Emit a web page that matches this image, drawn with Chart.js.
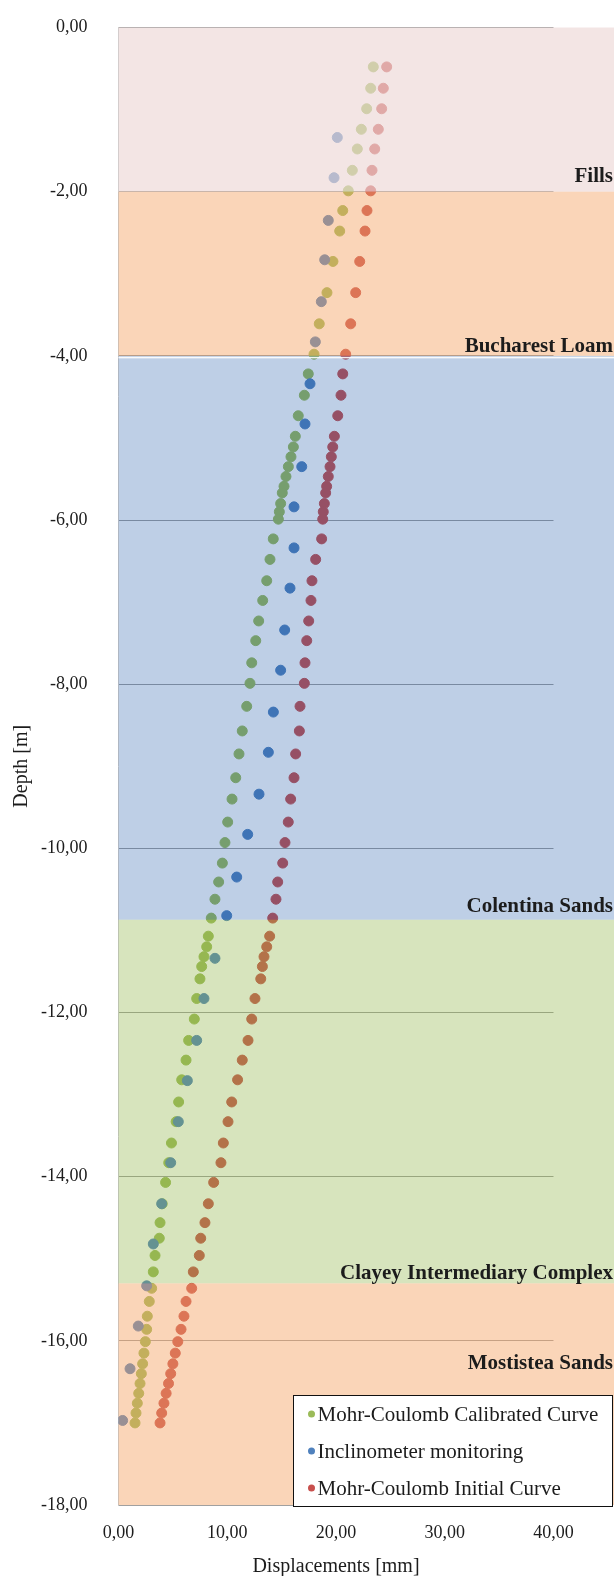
<!DOCTYPE html>
<html>
<head>
<meta charset="utf-8">
<script src="https://cdn.jsdelivr.net/npm/chart.js@4/dist/chart.umd.min.js"></script>
<style>
  html, body { margin: 0; padding: 0; background: #ffffff; }
  canvas { display: block; }
</style>
</head>
<body>
<canvas id="chart" width="614" height="1576"></canvas>
<script>
// Depth of the numerical-model nodes [m]
const modelDepth = [
  -0.48, -0.74, -0.99, -1.24, -1.48, -1.74, -1.99, -2.23, -2.48, -2.85,
  -3.23, -3.61, -3.98, -4.22, -4.48, -4.73, -4.98, -5.11, -5.23, -5.35,
  -5.47, -5.59, -5.67, -5.80, -5.90, -5.99, -6.23, -6.48, -6.74, -6.98,
  -7.23, -7.47, -7.74, -7.99, -8.27, -8.57, -8.85, -9.14, -9.40, -9.68,
  -9.93, -10.18, -10.41, -10.62, -10.85, -11.07, -11.20, -11.32, -11.44, -11.59,
  -11.83, -12.08, -12.34, -12.58, -12.82, -13.09, -13.33, -13.59, -13.83, -14.07,
  -14.33, -14.56, -14.75, -14.96, -15.16, -15.36, -15.52, -15.70, -15.86, -16.01,
  -16.15, -16.28, -16.40, -16.52, -16.64, -16.76, -16.88, -17.00
];

// Mohr-Coulomb calibrated model displacements [mm]
const calibratedDisp = [
  23.43, 23.19, 22.82, 22.33, 21.96, 21.50, 21.13, 20.62, 20.34, 19.72,
  19.17, 18.46, 17.98, 17.45, 17.09, 16.53, 16.26, 16.08, 15.86, 15.62,
  15.40, 15.22, 15.06, 14.91, 14.79, 14.70, 14.23, 13.93, 13.63, 13.26,
  12.89, 12.62, 12.25, 12.09, 11.79, 11.38, 11.08, 10.78, 10.44, 10.04,
  9.79, 9.55, 9.21, 8.87, 8.53, 8.26, 8.11, 7.86, 7.65, 7.49,
  7.19, 6.97, 6.45, 6.21, 5.81, 5.53, 5.30, 4.87, 4.62, 4.33,
  4.02, 3.82, 3.75, 3.36, 3.20, 3.05, 2.83, 2.65, 2.59, 2.47,
  2.34, 2.22, 2.10, 1.98, 1.86, 1.73, 1.61, 1.52
];

// Mohr-Coulomb initial model displacements [mm]
const initialDisp = [
  24.66, 24.35, 24.20, 23.89, 23.56, 23.31, 23.19, 22.85, 22.67, 22.18,
  21.81, 21.35, 20.89, 20.62, 20.46, 20.16, 19.85, 19.70, 19.57, 19.45,
  19.29, 19.14, 19.05, 18.93, 18.83, 18.78, 18.68, 18.13, 17.79, 17.70,
  17.49, 17.31, 17.15, 17.09, 16.69, 16.63, 16.29, 16.14, 15.83, 15.61,
  15.31, 15.10, 14.64, 14.48, 14.18, 13.90, 13.63, 13.38, 13.23, 13.08,
  12.55, 12.25, 11.91, 11.38, 10.95, 10.41, 10.07, 9.64, 9.42, 8.75,
  8.26, 7.95, 7.56, 7.43, 6.88, 6.73, 6.21, 6.02, 5.75, 5.45,
  5.22, 5.00, 4.80, 4.60, 4.38, 4.18, 3.97, 3.82
];

// Inclinometer reading depths [m] and measured displacements [mm]
const inclinoDepth = [
  -1.34, -1.83, -2.35, -2.83, -3.34, -3.83, -4.34, -4.83, -5.35, -5.84,
  -6.34, -6.83, -7.34, -7.83, -8.34, -8.83, -9.34, -9.83, -10.35, -10.82,
  -11.34, -11.83, -12.34, -12.83, -13.33, -13.83, -14.33, -14.82, -15.33, -15.82,
  -16.34, -16.97
];
const inclinoDisp = [
  20.12, 19.82, 19.29, 18.96, 18.65, 18.10, 17.61, 17.15, 16.85, 16.14,
  16.14, 15.77, 15.28, 14.91, 14.24, 13.78, 12.92, 11.88, 10.87, 9.95,
  8.87, 7.86, 7.19, 6.33, 5.50, 4.80, 3.97, 3.20, 2.59, 1.82,
  1.06, 0.38
];

// Axis ranges and tick steps
const xRange = [0, 40];
const xStep = 10;
const yRange = [-18, 0];
const yStep = 2;

// Soil stratigraphy
const layerNames = ['Fills', 'Bucharest Loam', 'Colentina Sands', 'Clayey Intermediary Complex', 'Mostistea Sands'];
const layerTop = [0, -2, -4, -10.87, -15.3];
const layerBottom = [-2, -4, -10.87, -15.3, -18];
const layerLabelDepth = [-1.88, -3.95, -10.78, -15.25, -16.34];

// Layer tints, laid over the markers so they show through the strata
const layerTint = [
  'rgba(237,215,214,0.66)',
  'rgba(244,162,97,0.45)',
  'rgba(20,84,166,0.28)',
  'rgba(141,178,66,0.35)',
  'rgba(244,162,97,0.45)'
];
// Edge drawn along the bottom of a layer (null = none)
const layerEdge = [null, 'rgba(255,255,255,0.9)', null, null, null];

const serif = '"Liberation Serif", "Times New Roman", serif';
const textColor = '#1c1c1c';

const toPoints = (xs, ys) => xs.map((x, i) => ({ x: x, y: ys[i] }));
const fmt = v => (Math.abs(v) < 1e-9 ? 0 : v).toFixed(2).replace('.', ',');

const strataPlugin = {
  id: 'strata',
  afterDatasetsDraw(chart) {
    const { ctx, chartArea, scales } = chart;
    const y = scales.y;
    ctx.save();
    layerNames.forEach((name, i) => {
      const top = y.getPixelForValue(layerTop[i]);
      const bot = y.getPixelForValue(layerBottom[i]);
      ctx.fillStyle = layerTint[i];
      ctx.fillRect(chartArea.left, top, chart.width - chartArea.left, bot - top);
    });
    layerNames.forEach((name, i) => {
      if (!layerEdge[i]) return;
      const bot = y.getPixelForValue(layerBottom[i]);
      ctx.fillStyle = layerEdge[i];
      ctx.fillRect(chartArea.left, bot + 1, chart.width - chartArea.left, 1.5);
    });
    ctx.font = 'bold 21px ' + serif;
    ctx.fillStyle = textColor;
    ctx.textAlign = 'right';
    ctx.textBaseline = 'alphabetic';
    layerNames.forEach((name, i) => {
      ctx.fillText(name, chart.width - 1, y.getPixelForValue(layerLabelDepth[i]));
    });
    ctx.restore();
  }
};

const legendBoxPlugin = {
  id: 'legendBox',
  afterDraw(chart) {
    const { ctx } = chart;
    const box = { left: 293.5, top: 1395.5, right: 612.5, bottom: 1506.5 };
    const rowH = (box.bottom - box.top) / chart.data.datasets.length;
    ctx.save();
    ctx.fillStyle = '#ffffff';
    ctx.fillRect(box.left, box.top, box.right - box.left, box.bottom - box.top);
    ctx.strokeStyle = '#111111';
    ctx.lineWidth = 1;
    ctx.strokeRect(box.left, box.top, box.right - box.left, box.bottom - box.top);
    ctx.font = '21px ' + serif;
    ctx.textAlign = 'left';
    ctx.textBaseline = 'middle';
    chart.data.datasets.forEach((ds, i) => {
      const cy = box.top + rowH * (i + 0.5);
      ctx.beginPath();
      ctx.arc(box.left + 18, cy, 3.5, 0, Math.PI * 2);
      ctx.fillStyle = ds.backgroundColor;
      ctx.fill();
      ctx.fillStyle = textColor;
      ctx.fillText(ds.label, box.left + 24, cy + 1);
    });
    ctx.restore();
  }
};

new Chart(document.getElementById('chart'), {
  type: 'scatter',
  data: {
    datasets: [
      {
        label: 'Mohr-Coulomb Calibrated Curve',
        data: toPoints(calibratedDisp, modelDepth),
        backgroundColor: '#9bbb59',
        borderColor: '#9bbb59',
        order: 3
      },
      {
        label: 'Inclinometer monitoring',
        data: toPoints(inclinoDisp, inclinoDepth),
        backgroundColor: '#4f81bd',
        borderColor: '#4f81bd',
        order: 2
      },
      {
        label: 'Mohr-Coulomb Initial Curve',
        data: toPoints(initialDisp, modelDepth),
        backgroundColor: '#c8504d',
        borderColor: '#c8504d',
        order: 1
      }
    ]
  },
  options: {
    responsive: false,
    animation: false,
    devicePixelRatio: 1,
    layout: { padding: { top: 27.5, right: 60.5, bottom: 0, left: 0 } },
    elements: { point: { radius: 5, borderWidth: 1, hoverRadius: 5 } },
    plugins: { legend: { display: false }, tooltip: { enabled: false } },
    scales: {
      x: {
        type: 'linear',
        min: xRange[0],
        max: xRange[1],
        afterFit: s => { s.height = 71; s.paddingLeft = 0; s.paddingRight = 0; },
        ticks: {
          stepSize: xStep,
          padding: 17,
          color: textColor,
          font: { family: serif, size: 18 },
          callback: v => fmt(v)
        },
        grid: { display: false, drawTicks: false },
        border: { display: false },
        title: {
          display: true,
          text: 'Displacements [mm]',
          color: textColor,
          font: { family: serif, size: 20 },
          padding: { top: 0, bottom: -3 }
        }
      },
      y: {
        type: 'linear',
        min: yRange[0],
        max: yRange[1],
        afterFit: s => { s.width = 118.5; s.paddingTop = 0; s.paddingBottom = 0; },
        ticks: {
          stepSize: yStep,
          padding: 31,
          color: textColor,
          font: { family: serif, size: 18 },
          callback: v => fmt(v)
        },
        grid: { color: '#a0a0a0', lineWidth: 1, drawTicks: false },
        border: { display: true, color: '#c8c8c8' },
        title: {
          display: true,
          text: 'Depth [m]',
          color: textColor,
          font: { family: serif, size: 20 },
          padding: { top: 10, bottom: 0 }
        }
      }
    }
  },
  plugins: [strataPlugin, legendBoxPlugin]
});
</script>
</body>
</html>
